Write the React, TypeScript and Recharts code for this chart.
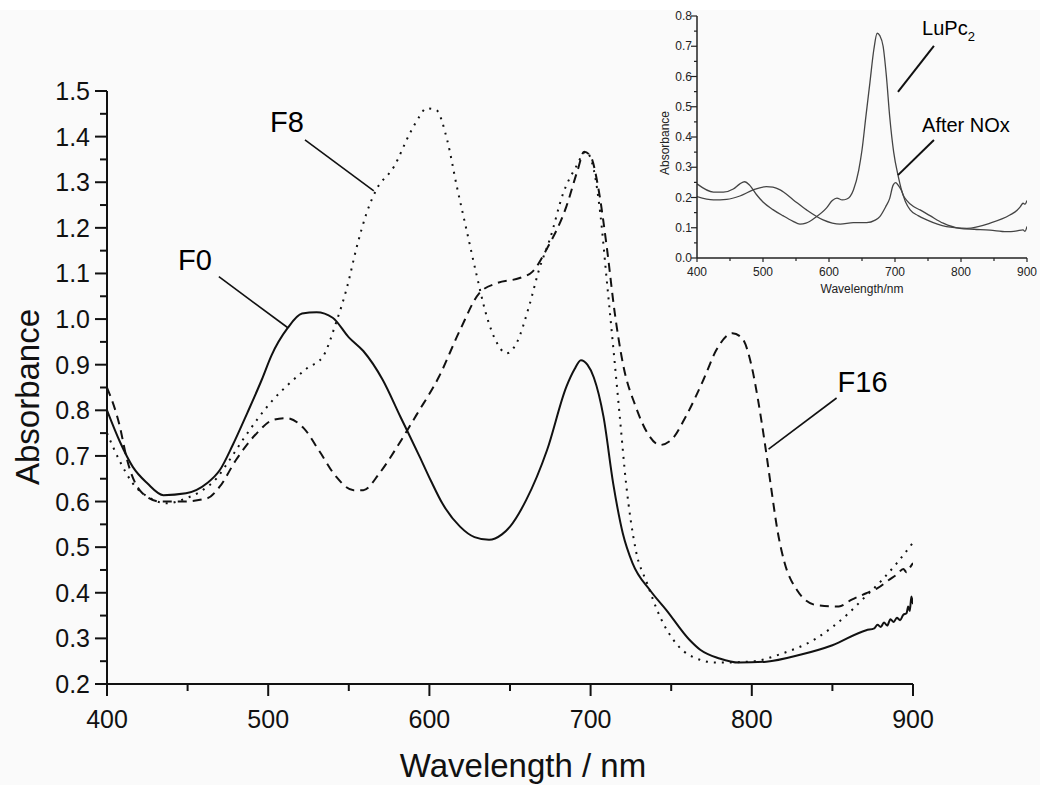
import React from 'react';
import { LineChart, Line, XAxis, YAxis, ReferenceLine, ReferenceDot } from 'recharts';

const FONT = '"Liberation Sans", Arial, Helvetica, sans-serif';

// ---------- Main chart data (wavelength nm / absorbance) ----------
const F0_WL = [400,408,416,425,435,449,462,470,478,487,496,502,512,521,530,540,550,559,571,582,594,601,608,619,628,637,645,650,660,673,685,690,694,698,702,708,714,720,726,737,747,761,768,780,792,809,830,850,871,876,878,880,882,884,886,888,890,892,894,896,897,898,899,900];
const F0_ABS = [0.80,0.731,0.676,0.640,0.614,0.618,0.640,0.669,0.724,0.794,0.867,0.92,0.98,1.012,1.015,1.003,0.96,0.93,0.867,0.786,0.698,0.645,0.596,0.545,0.522,0.516,0.528,0.545,0.603,0.713,0.852,0.89,0.910,0.90,0.872,0.786,0.640,0.530,0.465,0.405,0.362,0.298,0.275,0.256,0.247,0.249,0.264,0.285,0.318,0.322,0.330,0.325,0.335,0.328,0.342,0.336,0.345,0.340,0.352,0.355,0.370,0.360,0.392,0.375];

const F8_WL = [400,408,416,427,437,449,458,468,476,485,493,503,512,524,534,542,549,555,561,567,578,588,594,598,604,611,617,623,629,635,641,648,654,662,668,675,683,691,697,702,706,710,714,718,722,728,735,743,753,763,778,799,819,840,850,860,870,880,890,900];
const F8_ABS = [0.75,0.688,0.64,0.607,0.596,0.607,0.622,0.651,0.691,0.739,0.779,0.823,0.855,0.892,0.918,0.991,1.071,1.159,1.232,1.283,1.334,1.408,1.445,1.462,1.459,1.393,1.291,1.196,1.101,1.013,0.954,0.925,0.947,1.03,1.108,1.178,1.276,1.334,1.367,1.327,1.232,1.086,0.94,0.79,0.64,0.494,0.421,0.348,0.289,0.26,0.247,0.249,0.267,0.30,0.325,0.355,0.39,0.425,0.465,0.51];

const F16_WL = [400,408,412,422,433,447,462,470,480,493,503,511,522,532,542,553,559,569,580,592,606,619,631,642,656,664,673,685,692,696,700,705,710,715,720,728,736,743,750,759,770,778,788,794,800,804,808,812,816,820,828,840,854,862,871,878,885,890,894,896,898,900];
const F16_ABS = [0.85,0.764,0.698,0.618,0.60,0.60,0.607,0.633,0.691,0.75,0.779,0.783,0.761,0.709,0.655,0.625,0.625,0.662,0.72,0.79,0.874,0.976,1.057,1.079,1.09,1.104,1.155,1.247,1.327,1.367,1.357,1.283,1.159,1.013,0.903,0.808,0.746,0.724,0.735,0.786,0.867,0.932,0.969,0.958,0.895,0.82,0.73,0.63,0.535,0.47,0.406,0.373,0.37,0.385,0.399,0.41,0.428,0.44,0.452,0.445,0.455,0.465];

// ---------- Inset data ----------
const LUPC_WL = [400,425,440,455,465,472,480,490,500,515,530,545,556,565,580,596,605,612,620,627,637,645,650,656,662,668,673,677,682,687,692,698,705,712,718,728,738,753,773,798,820,844,869,885,894,897,900];
const LUPC_ABS = [0.245,0.218,0.218,0.228,0.245,0.252,0.24,0.21,0.185,0.160,0.14,0.122,0.112,0.115,0.135,0.165,0.19,0.198,0.192,0.195,0.225,0.29,0.357,0.47,0.58,0.69,0.743,0.735,0.70,0.60,0.467,0.35,0.269,0.21,0.19,0.17,0.159,0.14,0.115,0.098,0.095,0.092,0.087,0.09,0.093,0.088,0.104];

const NOX_WL = [400,425,445,465,485,505,515,526,546,566,591,617,637,657,670,677,686,692,697,701,705,710,716,723,735,748,778,809,844,874,885,890,894,897,900];
const NOX_ABS = [0.203,0.192,0.194,0.205,0.225,0.236,0.234,0.225,0.192,0.159,0.126,0.112,0.117,0.117,0.125,0.137,0.17,0.197,0.24,0.249,0.24,0.222,0.185,0.159,0.14,0.126,0.104,0.098,0.115,0.142,0.158,0.17,0.181,0.178,0.19];

// ---------- Ticks ----------
const MAIN_X_TICKS = [400,450,500,550,600,650,700,750,800,850,900];
const MAIN_X_LABELS = [400,500,600,700,800,900];
const MAIN_Y_TICKS = [0.2,0.25,0.3,0.35,0.4,0.45,0.5,0.55,0.6,0.65,0.7,0.75,0.8,0.85,0.9,0.95,1.0,1.05,1.1,1.15,1.2,1.25,1.3,1.35,1.4,1.45,1.5];
const MAIN_Y_LABELS = [0.2,0.3,0.4,0.5,0.6,0.7,0.8,0.9,1.0,1.1,1.2,1.3,1.4,1.5];

const INSET_X_TICKS = [400,450,500,550,600,650,700,750,800,850,900];
const INSET_X_LABELS = [400,500,600,700,800,900];
const INSET_Y_TICKS = [0,0.05,0.1,0.15,0.2,0.25,0.3,0.35,0.4,0.45,0.5,0.55,0.6,0.65,0.7,0.75,0.8];
const INSET_Y_LABELS = [0,0.1,0.2,0.3,0.4,0.5,0.6,0.7,0.8];

const zip = (wl: number[], ab: number[]) => wl.map((x, i) => ({ x, y: ab[i] }));
const F0 = zip(F0_WL, F0_ABS);
const F8 = zip(F8_WL, F8_ABS);
const F16 = zip(F16_WL, F16_ABS);
const LUPC = zip(LUPC_WL, LUPC_ABS);
const NOX = zip(NOX_WL, NOX_ABS);

const isMajor = (labels: number[], v: number) => labels.some((l) => Math.abs(l - v) < 1e-6);

const makeYTick = (labels: number[], majorLen: number, minorLen: number, gap: number, fontSize: number, color: string, sw: number, digits: number) =>
  (props: any) => {
    const { x, y, payload } = props;
    const v = payload.value;
    const major = isMajor(labels, v);
    return (
      <g>
        <line x1={x} x2={x - (major ? majorLen : minorLen)} y1={y} y2={y} stroke={color} strokeWidth={sw} />
        {major && (
          <text x={x - gap} y={y} textAnchor="end" dominantBaseline="central" fontSize={fontSize} fill={color} fontFamily={FONT}>
            {v.toFixed(digits)}
          </text>
        )}
      </g>
    );
  };

const makeXTick = (labels: number[], majorLen: number, minorLen: number, gap: number, fontSize: number, color: string, sw: number) =>
  (props: any) => {
    const { x, y, payload } = props;
    const v = payload.value;
    const major = isMajor(labels, v);
    return (
      <g>
        <line x1={x} x2={x} y1={y} y2={y + (major ? majorLen : minorLen)} stroke={color} strokeWidth={sw} />
        {major && (
          <text x={x} y={y + gap} textAnchor="middle" dominantBaseline="central" fontSize={fontSize} fill={color} fontFamily={FONT}>
            {String(v)}
          </text>
        )}
      </g>
    );
  };

const MainYTick = makeYTick(MAIN_Y_LABELS, 12, 7, 17, 25, '#111', 2, 1);
const MainXTick = makeXTick(MAIN_X_LABELS, 12, 7, 35, 25, '#111', 2);
const InsetYTick = makeYTick(INSET_Y_LABELS, 6, 3, 5, 12, '#222', 1.2, 1);
const InsetXTick = makeXTick(INSET_X_LABELS, 4, 3, 14, 12, '#222', 1.2);

const textLabel = (value: string, fontSize: number) => ({
  value,
  position: 'center' as const,
  fontSize,
  fill: '#000',
  fontFamily: FONT,
});

const LuPcLabel = (p: any) => {
  const vb = p.viewBox || {};
  const cx = (vb.x ?? 0) + (vb.width ?? 0) / 2;
  const cy = (vb.y ?? 0) + (vb.height ?? 0) / 2;
  return (
    <text x={cx} y={cy} fontSize={20} fill="#000" fontFamily={FONT} textAnchor="start">
      LuPc<tspan dy={6} fontSize={13}>2</tspan>
    </text>
  );
};

const NoxLabel = (p: any) => {
  const vb = p.viewBox || {};
  const cx = (vb.x ?? 0) + (vb.width ?? 0) / 2;
  const cy = (vb.y ?? 0) + (vb.height ?? 0) / 2;
  return (
    <text x={cx} y={cy} fontSize={20} fill="#000" fontFamily={FONT} textAnchor="start">
      After NOx
    </text>
  );
};

export default function App() {
  return (
    <div style={{ position: 'absolute', left: 0, top: 0, width: 1040, height: 785, background: '#fafafa', overflow: 'hidden', fontFamily: FONT }}>
      <div style={{ position: 'absolute', left: 0, top: 0, width: 1040, height: 10, background: '#ffffff' }} />
      <div style={{ position: 'absolute', left: 0, top: 0 }}>
        <LineChart width={1040} height={785} margin={{ top: 91, right: 127, bottom: 0, left: 0 }}>
          <XAxis
            type="number"
            dataKey="x"
            domain={[400, 900]}
            ticks={MAIN_X_TICKS}
            interval={0}
            height={101}
            tickSize={0}
            tickMargin={0}
            tickLine={false}
            axisLine={{ stroke: '#111', strokeWidth: 2 }}
            tick={MainXTick}
            allowDataOverflow
          />
          <YAxis
            type="number"
            domain={[0.2, 1.5]}
            ticks={MAIN_Y_TICKS}
            interval={0}
            width={107}
            tickSize={0}
            tickMargin={0}
            tickLine={false}
            axisLine={{ stroke: '#111', strokeWidth: 2 }}
            tick={MainYTick}
            allowDataOverflow
          />
          <Line data={F0} dataKey="y" type="monotone" stroke="#111" strokeWidth={2} dot={false} activeDot={false} isAnimationActive={false} />
          <Line data={F8} dataKey="y" type="monotone" stroke="#111" strokeWidth={2} strokeDasharray="2 6" dot={false} activeDot={false} isAnimationActive={false} />
          <Line data={F16} dataKey="y" type="monotone" stroke="#111" strokeWidth={2} strokeDasharray="9 6" dot={false} activeDot={false} isAnimationActive={false} />

          <ReferenceLine segment={[{ x: 522.8, y: 1.393 }, { x: 565.5, y: 1.281 }]} stroke="#111" strokeWidth={1.6} />
          <ReferenceLine segment={[{ x: 469.4, y: 1.093 }, { x: 512.2, y: 0.981 }]} stroke="#111" strokeWidth={1.6} />
          <ReferenceLine segment={[{ x: 852.6, y: 0.827 }, { x: 810.4, y: 0.715 }]} stroke="#111" strokeWidth={1.6} />
          <ReferenceDot x={511.6} y={1.432} r={0} fill="none" stroke="none" label={textLabel('F8', 29)} />
          <ReferenceDot x={454.6} y={1.131} r={0} fill="none" stroke="none" label={textLabel('F0', 29)} />
          <ReferenceDot x={868.7} y={0.863} r={0} fill="none" stroke="none" label={textLabel('F16', 29)} />
        </LineChart>
      </div>

      <div style={{ position: 'absolute', left: 640, top: 0 }}>
        <LineChart width={400} height={310} margin={{ top: 16, right: 13, bottom: 0, left: 0 }}>
          <XAxis
            type="number"
            dataKey="x"
            domain={[400, 900]}
            ticks={INSET_X_TICKS}
            interval={0}
            height={52}
            tickSize={0}
            tickMargin={0}
            tickLine={false}
            axisLine={{ stroke: '#222', strokeWidth: 1.5 }}
            tick={InsetXTick}
            allowDataOverflow
          />
          <YAxis
            type="number"
            domain={[0, 0.8]}
            ticks={INSET_Y_TICKS}
            interval={0}
            width={57}
            tickSize={0}
            tickMargin={0}
            tickLine={false}
            axisLine={{ stroke: '#222', strokeWidth: 1.5 }}
            tick={InsetYTick}
            allowDataOverflow
          />
          <Line data={LUPC} dataKey="y" type="monotone" stroke="#444" strokeWidth={1.3} dot={false} activeDot={false} isAnimationActive={false} />
          <Line data={NOX} dataKey="y" type="monotone" stroke="#444" strokeWidth={1.3} dot={false} activeDot={false} isAnimationActive={false} />
          <ReferenceLine segment={[{ x: 759, y: 0.701 }, { x: 704.5, y: 0.549 }]} stroke="#111" strokeWidth={2} ifOverflow="visible" />
          <ReferenceLine segment={[{ x: 759, y: 0.39 }, { x: 704.5, y: 0.274 }]} stroke="#111" strokeWidth={2} ifOverflow="visible" />
          <ReferenceDot x={741} y={0.737} r={0} fill="none" stroke="none" ifOverflow="visible" label={{ content: LuPcLabel }} />
          <ReferenceDot x={741} y={0.4176} r={0} fill="none" stroke="none" ifOverflow="visible" label={{ content: NoxLabel }} />
        </LineChart>
      </div>

      <svg width={1040} height={785} style={{ position: 'absolute', left: 0, top: 0, pointerEvents: 'none' }}>
        <text x={27} y={397} transform="rotate(-90 27 397)" textAnchor="middle" dominantBaseline="central" fontSize={33} fill="#111" fontFamily={FONT}>
          Absorbance
        </text>
        <text x={523} y={765} textAnchor="middle" dominantBaseline="central" fontSize={33} fill="#111" fontFamily={FONT}>
          Wavelength / nm
        </text>
        <text x={665} y={143} transform="rotate(-90 665 143)" textAnchor="middle" dominantBaseline="central" fontSize={12} fill="#222" fontFamily={FONT}>
          Absorbance
        </text>
        <text x={862} y={289} textAnchor="middle" dominantBaseline="central" fontSize={12} fill="#222" fontFamily={FONT}>
          Wavelength/nm
        </text>
      </svg>
    </div>
  );
}
